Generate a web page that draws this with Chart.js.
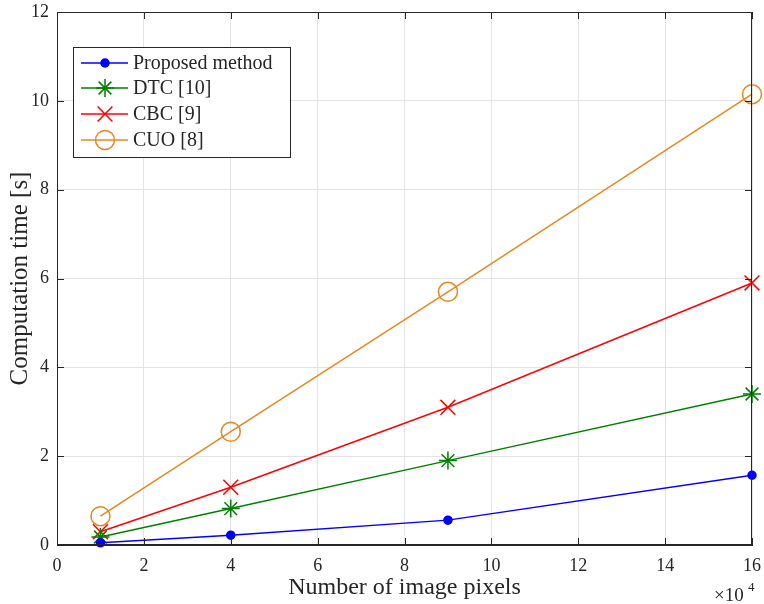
<!DOCTYPE html>
<html>
<head>
<meta charset="utf-8">
<script src="https://cdn.jsdelivr.net/npm/chart.js@4"></script>
<style>
  html, body { margin: 0; padding: 0; background: #fff; }
  #wrap { width: 764px; height: 604px; }
</style>
</head>
<body>
<div id="wrap"><canvas id="timeChart" width="764" height="604"></canvas></div>
<script>
// image size in units of 1e4 pixels
const pixels = [1, 4, 9, 16];

const proposedTime = [0.05, 0.22, 0.56, 1.57];
const dtcTime = [0.18, 0.82, 1.9, 3.4];
const cbcTime = [0.3, 1.3, 3.1, 5.9];
const cuoTime = [0.65, 2.55, 5.7, 10.15];

const seriesLabels = ["Proposed method", "DTC [10]", "CBC [9]", "CUO [8]"];
const xTicks = [0, 2, 4, 6, 8, 10, 12, 14, 16];
const yTicks = [0, 2, 4, 6, 8, 10, 12];

const FONT = "'Liberation Serif', 'Times New Roman', serif";
const AXIS = "#262626";

function toPoints(ys) {
  return pixels.map((x, i) => ({ x: x, y: ys[i] }));
}

const styles = [
  { color: "#0000ff", pointStyle: "circle", radius: 4, fill: true },
  { color: "#008000", pointStyle: "star", radius: 9, fill: false },
  { color: "#ff0000", pointStyle: "crossRot", radius: 10.5, fill: false },
  { color: "#e8871e", pointStyle: "circle", radius: 9.5, fill: false },
];

const allSeries = [proposedTime, dtcTime, cbcTime, cuoTime];

const datasets = allSeries.map((ys, i) => ({
  label: seriesLabels[i],
  data: toPoints(ys),
  borderColor: styles[i].color,
  backgroundColor: styles[i].fill ? styles[i].color : "rgba(0,0,0,0)",
  pointBorderColor: styles[i].color,
  pointBackgroundColor: styles[i].fill ? styles[i].color : "rgba(0,0,0,0)",
  pointStyle: styles[i].pointStyle,
  pointRadius: styles[i].radius,
  pointBorderWidth: 1.5,
  borderWidth: 1.5,
  tension: 0,
  fill: false,
  clip: false,
}));

// box, inward ticks, exponent label and legend in MATLAB style
const axesDecor = {
  id: "axesDecor",
  afterDraw(chart) {
    const { ctx, chartArea: a, scales } = chart;
    const xs = scales.x, ys = scales.y;
    ctx.save();
    ctx.strokeStyle = AXIS;
    ctx.lineWidth = 1;
    ctx.strokeRect(a.left + 0.5, a.top + 0.5, a.right - a.left - 1, a.bottom - a.top - 1);

    const t = 7;
    ctx.beginPath();
    xTicks.forEach(v => {
      const px = Math.round(xs.getPixelForValue(v)) + 0.5;
      ctx.moveTo(px, a.bottom); ctx.lineTo(px, a.bottom - t);
      ctx.moveTo(px, a.top); ctx.lineTo(px, a.top + t);
    });
    yTicks.forEach(v => {
      const py = Math.round(ys.getPixelForValue(v)) + 0.5;
      ctx.moveTo(a.left, py); ctx.lineTo(a.left + t, py);
      ctx.moveTo(a.right, py); ctx.lineTo(a.right - t, py);
    });
    ctx.stroke();

    // x exponent
    ctx.fillStyle = AXIS;
    ctx.textBaseline = "alphabetic";
    ctx.textAlign = "left";
    ctx.font = "19px " + FONT;
    ctx.fillText("\u00d710", 714, 601);
    ctx.font = "13px " + FONT;
    ctx.fillText("4", 748, 591);

    // legend
    const lx = 73, ly = 47, lw = 217, lh = 110;
    ctx.fillStyle = "#fff";
    ctx.fillRect(lx, ly, lw, lh);
    ctx.strokeStyle = AXIS;
    ctx.lineWidth = 1;
    ctx.strokeRect(lx + 0.5, ly + 0.5, lw, lh);
    const rows = [63, 88, 114, 140];
    chart.data.datasets.forEach((ds, i) => {
      const y = rows[i];
      ctx.strokeStyle = ds.borderColor;
      ctx.lineWidth = 1.5;
      ctx.beginPath();
      ctx.moveTo(81, y); ctx.lineTo(128, y);
      ctx.stroke();
      ctx.fillStyle = ds.pointBackgroundColor;
      Chart.helpers.drawPoint(ctx, {
        pointStyle: ds.pointStyle,
        radius: ds.pointRadius,
        borderWidth: 1.5,
        rotation: 0,
      }, 105, y);
      ctx.fillStyle = AXIS;
      ctx.font = "20px " + FONT;
      ctx.textAlign = "left";
      ctx.textBaseline = "middle";
      ctx.fillText(ds.label, 133, y + 1);
    });
    ctx.restore();
  },
};

new Chart(document.getElementById("timeChart"), {
  type: "line",
  data: { datasets: datasets },
  plugins: [axesDecor],
  options: {
    responsive: false,
    animation: false,
    layout: { padding: { top: 2, right: 0, left: 0, bottom: 0 } },
    plugins: { legend: { display: false }, tooltip: { enabled: false } },
    scales: {
      x: {
        type: "linear",
        min: 0,
        max: 16,
        afterBuildTicks: s => { s.ticks = xTicks.map(v => ({ value: v })); },
        afterFit: s => { s.height = 59; s.paddingRight = 12; },
        grid: { color: "#e3e3e3", drawTicks: false },
        border: { color: AXIS },
        ticks: { color: AXIS, padding: 10, font: { family: FONT, size: 18 } },
        title: {
          display: true,
          text: "Number of image pixels",
          color: AXIS,
          padding: { top: 0, bottom: 2 },
          font: { family: FONT, size: 24 },
        },
      },
      y: {
        min: 0,
        max: 12,
        afterBuildTicks: s => { s.ticks = yTicks.map(v => ({ value: v })); },
        afterFit: s => { s.width = 57; s.paddingTop = 11; },
        grid: { color: "#e3e3e3", drawTicks: false },
        border: { color: AXIS },
        ticks: { color: AXIS, padding: 8, font: { family: FONT, size: 18 } },
        title: {
          display: true,
          text: "Computation time [s]",
          color: AXIS,
          padding: { top: 5, bottom: 0 },
          font: { family: FONT, size: 25 },
        },
      },
    },
  },
});
</script>
</body>
</html>
